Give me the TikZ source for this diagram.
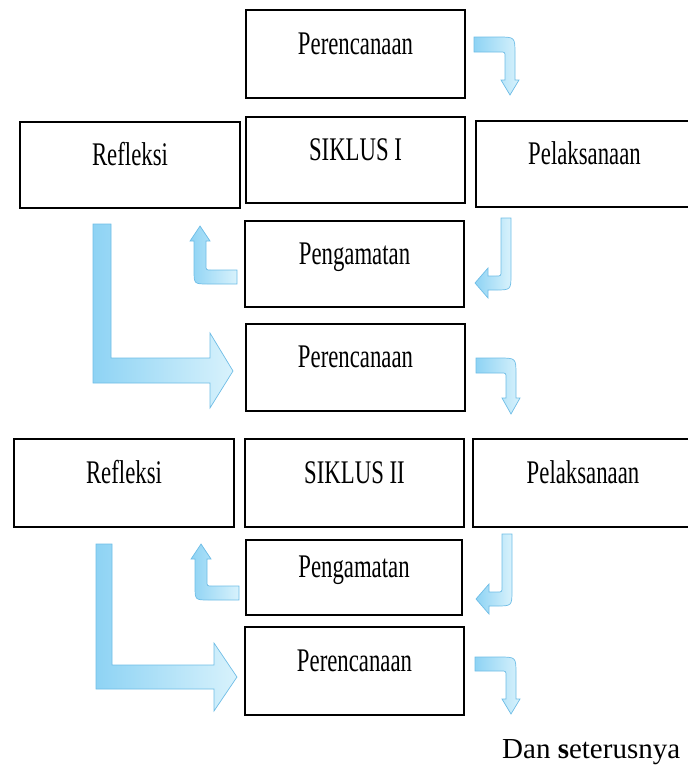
\documentclass[tikz,border=0pt]{standalone}
\usepackage{fontspec}
\setmainfont{Liberation Serif}
\newfontfamily\boxfont{Liberation Serif}[FakeStretch=0.69]
\definecolor{arrline}{HTML}{6FBDE6}
\definecolor{arrdark}{HTML}{8ED3F4}
\definecolor{arrlight}{HTML}{D8F2FC}
\begin{document}
\begin{tikzpicture}[x=1pt,y=-1pt,
  box/.style={draw=black, line width=1.8pt, fill=white, rectangle,
    text height=0pt, text depth=0pt, inner sep=0pt,
    font=\boxfont\fontsize{33}{37}\selectfont},
  barrow/.style={draw=arrline, line width=0.7pt, left color=arrdark, right color=arrlight}]
\useasboundingbox (0,0) rectangle (688,766);
\clip (0,0) rectangle (688,766);

% ---------- block arrows ----------
% Perencanaan -> Pelaksanaan (cycle I)
\path[barrow] (474,37) -- (498,37) .. controls (515,37) .. (515,54) -- (515,80) -- (519,80) -- (510,95) -- (501,80) -- (505,80) -- (505,57) .. controls (505,52) .. (500,52) -- (474,52) -- cycle;
% Pelaksanaan -> Pengamatan (cycle I)
\path[barrow] (501,218) -- (511,218) -- (511,274) .. controls (511,290) .. (495,290) -- (488,290) -- (488,298) -- (475,283) -- (488,268) -- (488,276) -- (496,276) .. controls (501,276) .. (501,271) -- cycle;
% Pengamatan -> Refleksi (cycle I)
\path[barrow] (237,270) -- (211,270) .. controls (206,270) .. (206,265) -- (206,241) -- (210,241) -- (200,226) -- (190,241) -- (194,241) -- (194,270) .. controls (194,284) .. (208,284) -- (237,284) -- cycle;
% Refleksi -> Perencanaan (cycle II)
\path[barrow] (93,224) -- (111,224) -- (111,358) -- (210,358) -- (210,333) -- (233,371) -- (210,408) -- (210,383) -- (93,383) -- cycle;
% Perencanaan -> Pelaksanaan (cycle II)
\path[barrow] (476,358) -- (499,358) .. controls (516,358) .. (516,375) -- (516,398) -- (520,398) -- (511,414) -- (502,398) -- (506,398) -- (506,378) .. controls (506,373) .. (501,373) -- (476,373) -- cycle;
% Pelaksanaan -> Pengamatan (cycle II)
\path[barrow] (502,534) -- (512,534) -- (512,590) .. controls (512,606) .. (496,606) -- (489,606) -- (489,614) -- (476,599) -- (489,584) -- (489,592) -- (497,592) .. controls (502,592) .. (502,587) -- cycle;
% Pengamatan -> Refleksi (cycle II)
\path[barrow] (239,586) -- (212,586) .. controls (207,586) .. (207,581) -- (207,559) -- (211,559) -- (201,544) -- (191,559) -- (195,559) -- (195,586) .. controls (195,600) .. (209,600) -- (239,600) -- cycle;
% Refleksi -> Perencanaan (cycle III)
\path[barrow] (96,544) -- (112,544) -- (112,665) -- (214,665) -- (214,643) -- (237,677) -- (214,711) -- (214,689) -- (96,689) -- cycle;
% Perencanaan -> onward
\path[barrow] (475,657) -- (499,657) .. controls (516,657) .. (516,674) -- (516,699) -- (520,699) -- (511,714) -- (502,699) -- (506,699) -- (506,676) .. controls (506,671) .. (501,671) -- (475,671) -- cycle;

% ---------- boxes ----------
\node[box, minimum width=219pt, minimum height=88pt] (p1) at (355.5,54) {Perencanaan};
\node[box, minimum width=220pt, minimum height=86pt] (r1) at (130,165) {Refleksi};
\node[box, minimum width=219pt, minimum height=86pt] (s1) at (355.5,160) {SIKLUS I};
\node[box, minimum width=217pt, minimum height=86pt] (l1) at (584.5,164) {Pelaksanaan};
\node[box, minimum width=219pt, minimum height=86pt] (g1) at (354.5,264) {Pengamatan};
\node[box, minimum width=219pt, minimum height=87pt] (p2) at (355.5,367.5) {Perencanaan};
\node[box, minimum width=220pt, minimum height=88pt] (r2) at (124,483) {Refleksi};
\node[box, minimum width=219pt, minimum height=88pt] (s2) at (354.5,483) {SIKLUS II};
\node[box, minimum width=220pt, minimum height=88pt] (l2) at (583,483) {Pelaksanaan};
\node[box, minimum width=216pt, minimum height=75pt] (g2) at (354,577.5) {Pengamatan};
\node[box, minimum width=219pt, minimum height=88pt] (p3) at (354.5,671) {Perencanaan};
\node[anchor=base west, inner sep=0pt, font=\fontsize{29}{33}\selectfont] (dan) at (502,758) {Dan \textbf{s}eterusnya};
\end{tikzpicture}
\end{document}
